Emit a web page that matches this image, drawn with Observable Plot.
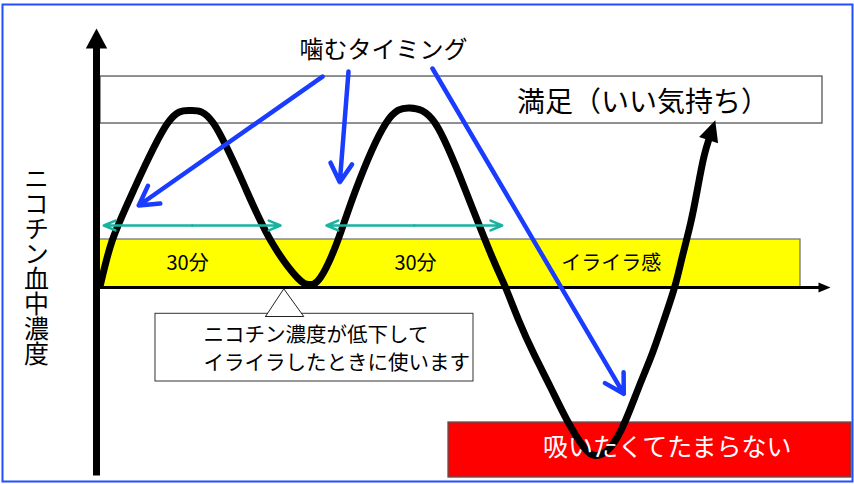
<!DOCTYPE html>
<html>
<head>
<meta charset="utf-8">
<script src="https://cdn.jsdelivr.net/npm/d3@7"></script>
<script src="https://cdn.jsdelivr.net/npm/@observablehq/plot@0.6"></script>
<style>
  html, body { margin: 0; padding: 0; background: #fff; }
  #chart svg { display: block; }
</style>
</head>
<body>
<div id="chart"></div>
<script>
// ---- data (x: minutes, y: nicotine level, baseline = 0) ----
const curveTime = [0.69, 2.71, 6.38, 12.19, 16.21, 20.22, 25.86, 30.34, 34.6, 36.6, 38.62, 41.6, 44.66, 49.83, 54.02, 58.45, 63.62, 68.22, 70.52, 72.81, 75.40, 78.28, 81.16, 84.02, 86.03, 88.62, 91.21, 93.5, 95.81, 97.81, 99.66, 100.98, 102.41, 103.57, 104.71, 105.86];
const curveLevel = [1.67, 26.11, 53.89, 90.94, 98.33, 90.94, 53.89, 24.44, 5.56, 1.67, 5.56, 26.11, 53.89, 90.94, 99.72, 90.94, 53.89, 16.83, 0, -18.33, -36.83, -55.39, -73.89, -88.72, -93.33, -88.72, -73.89, -55.39, -36.83, -18.33, 0, 16.83, 35.39, 53.89, 72.39, 85.0];

const zoneNames = ["満足（いい気持ち）", "イライラ感", "吸いたくてたまらない"];
const zoneFrom = [0.69, 0, 60.69];
const zoneTo = [125.17, 121.38, 130.17];
const zoneLow = [91.1, 0, -105.56];
const zoneHigh = [117.2, 26.67, -75];
const zoneLabelTime = [94.22, 88.74, 98.4];
const zoneLabelLevel = [102.5, 13.33, -89.44];

const intervalLabels = ["30分", "30分"];
const intervalFrom = [1.26, 39.66];
const intervalTo = [31.72, 69.95];
const intervalLevel = [34.44, 34.44];
const intervalLabelTime = [15.7, 55.0];
const intervalLabelLevel = [13.33, 13.33];

const timingTitle = "噛むタイミング";
const timingTitleTime = 49.48;
const timingTitleLevel = 131.67;
const timingFromTime = [38.97, 43.45, 57.93];
const timingFromLevel = [117.2, 120, 121.67];
const timingToTime = [7.29, 41.95, 90.91];
const timingToLevel = [45.56, 58.5, -59.06];

const calloutLines = ["ニコチン濃度が低下して", "イライラしたときに使います"];
const calloutLineLevel = [-26.67, -42.39];
const calloutTextTime = 18.45;
const calloutBoxTime = [10.17, 65.0];
const calloutBoxLevel = [-52.22, -14.61];
const pointerTime = [29.14, 32.29, 35.74, 29.14];
const pointerLevel = [-16.11, -0.72, -16.11, -16.11];

const yAxisTitle = "ニコチン血中濃度";
const yAxisTitleTime = -10.34;
const yAxisTitleLevel = 12.22;
const yAxisLevels = [-104.44, 136.11];
const xAxisTimes = [0, 125.52];

// ---- helpers ----
const FONT = "'Noto Sans CJK JP', 'Noto Sans', sans-serif";
const NS = "http://www.w3.org/2000/svg";
function triangleMarker(forward, back, half) {
  return (color) => {
    const m = document.createElementNS(NS, "marker");
    m.setAttribute("viewBox", `${-back - 1} ${-half - 1} ${forward + back + 2} ${2 * half + 2}`);
    m.setAttribute("markerWidth", forward + back + 2);
    m.setAttribute("markerHeight", 2 * half + 2);
    m.setAttribute("markerUnits", "userSpaceOnUse");
    m.setAttribute("refX", 0);
    m.setAttribute("refY", 0);
    m.setAttribute("orient", "auto");
    const p = document.createElementNS(NS, "path");
    p.setAttribute("d", `M${-back},${-half}L${forward},0L${-back},${half}Z`);
    p.setAttribute("fill", color);
    p.setAttribute("stroke", "none");
    m.appendChild(p);
    return m;
  };
}

const curve = curveTime.map((t, i) => ({t, c: curveLevel[i]}));
const zones = zoneNames.map((name, i) => ({name, x1: zoneFrom[i], x2: zoneTo[i], y1: zoneLow[i], y2: zoneHigh[i], lt: zoneLabelTime[i], ll: zoneLabelLevel[i]}));
const intervals = intervalLabels.map((label, i) => ({label, a: intervalFrom[i], b: intervalTo[i], m: (intervalFrom[i] + intervalTo[i]) / 2, y: intervalLevel[i], lt: intervalLabelTime[i], ll: intervalLabelLevel[i]}));
const halfArrows = intervals.flatMap(d => [{x1: d.m, x2: d.a, y: d.y}, {x1: d.m, x2: d.b, y: d.y}]);
const timing = timingFromTime.map((t, i) => ({x1: t, y1: timingFromLevel[i], x2: timingToTime[i], y2: timingToLevel[i]}));
const pointer = pointerTime.map((t, i) => ({t, c: pointerLevel[i]}));
const callout = calloutLines.map((text, i) => ({text, c: calloutLineLevel[i]}));
const zoneFill = ["white", "#ffff00", "#ff0000"];
const zoneStroke = ["#555", "#777", "#555"];
const zoneText = ["#000", "#000", "#fff"];
const zoneFont = [28, 20, 25];

const chart = Plot.plot({
  width: 854,
  height: 484,
  margin: 0,
  x: {domain: [-16.552, 130.69], axis: null},
  y: {domain: [-109.44, 159.44], axis: null},
  style: {background: "white", fontFamily: FONT},
  marks: [
    Plot.frame({stroke: "#1f4fff", strokeWidth: 2, insetLeft: 2, insetTop: 4, insetRight: 2, insetBottom: 3}),
    Plot.rect(zones, {x1: "x1", x2: "x2", y1: "y1", y2: "y2", fill: (d, i) => zoneFill[i], stroke: (d, i) => zoneStroke[i], strokeWidth: 1.3}),
    Plot.link([0], {x1: xAxisTimes[0], x2: xAxisTimes[1], y1: 0, y2: 0, stroke: "black", strokeWidth: 3, markerEnd: triangleMarker(6, 6, 5)}),
    Plot.link([0], {x1: 0, x2: 0, y1: yAxisLevels[0], y2: yAxisLevels[1], stroke: "black", strokeWidth: 7, markerEnd: triangleMarker(14, 6, 10.7)}),
    Plot.line(curve, {x: "t", y: "c", curve: "natural", stroke: "black", strokeWidth: 7, strokeLinejoin: "round", markerEnd: triangleMarker(15, 6, 10)}),
    Plot.rect([0], {x1: calloutBoxTime[0], x2: calloutBoxTime[1], y1: calloutBoxLevel[0], y2: calloutBoxLevel[1], fill: "white", stroke: "#333", strokeWidth: 1}),
    Plot.line(pointer, {x: "t", y: "c", fill: "white", stroke: "#222", strokeWidth: 1}),
    Plot.arrow(halfArrows, {x1: "x1", x2: "x2", y1: "y", y2: "y", stroke: "#19b3a0", strokeWidth: 2.5, headLength: 7.6, headAngle: 46}),
    Plot.arrow(timing, {x1: "x1", y1: "y1", x2: "x2", y2: "y2", stroke: "#1a3cff", strokeWidth: 4.5, headLength: 7.2, headAngle: 60}),
    Plot.text(zones, {x: "lt", y: "ll", text: "name", fill: (d, i) => zoneText[i], fontSize: (d, i) => zoneFont[i], fontFamily: FONT}),
    Plot.text(intervals, {x: "lt", y: "ll", text: "label", fill: "black", fontSize: 20, fontFamily: FONT}),
    Plot.text(callout, {x: calloutTextTime, y: "c", text: "text", textAnchor: "start", fill: "black", fontSize: 20.5, fontFamily: FONT}),
    Plot.text([timingTitle], {x: timingTitleTime, y: timingTitleLevel, text: d => d, fill: "black", fontSize: 24, fontFamily: FONT}),
    Plot.text([yAxisTitle], {x: yAxisTitleTime, y: yAxisTitleLevel, text: d => d, fill: "black", fontSize: 25, fontFamily: FONT})
  ]
});
// set the y-axis title in vertical (tategaki) writing mode
for (const t of chart.querySelectorAll("text")) {
  if (t.textContent === yAxisTitle) {
    t.removeAttribute("y");
    t.removeAttribute("dy");
    t.style.writingMode = "vertical-rl";
    t.setAttribute("text-anchor", "middle");
  }
}
document.getElementById("chart").append(chart);
</script>
</body>
</html>
